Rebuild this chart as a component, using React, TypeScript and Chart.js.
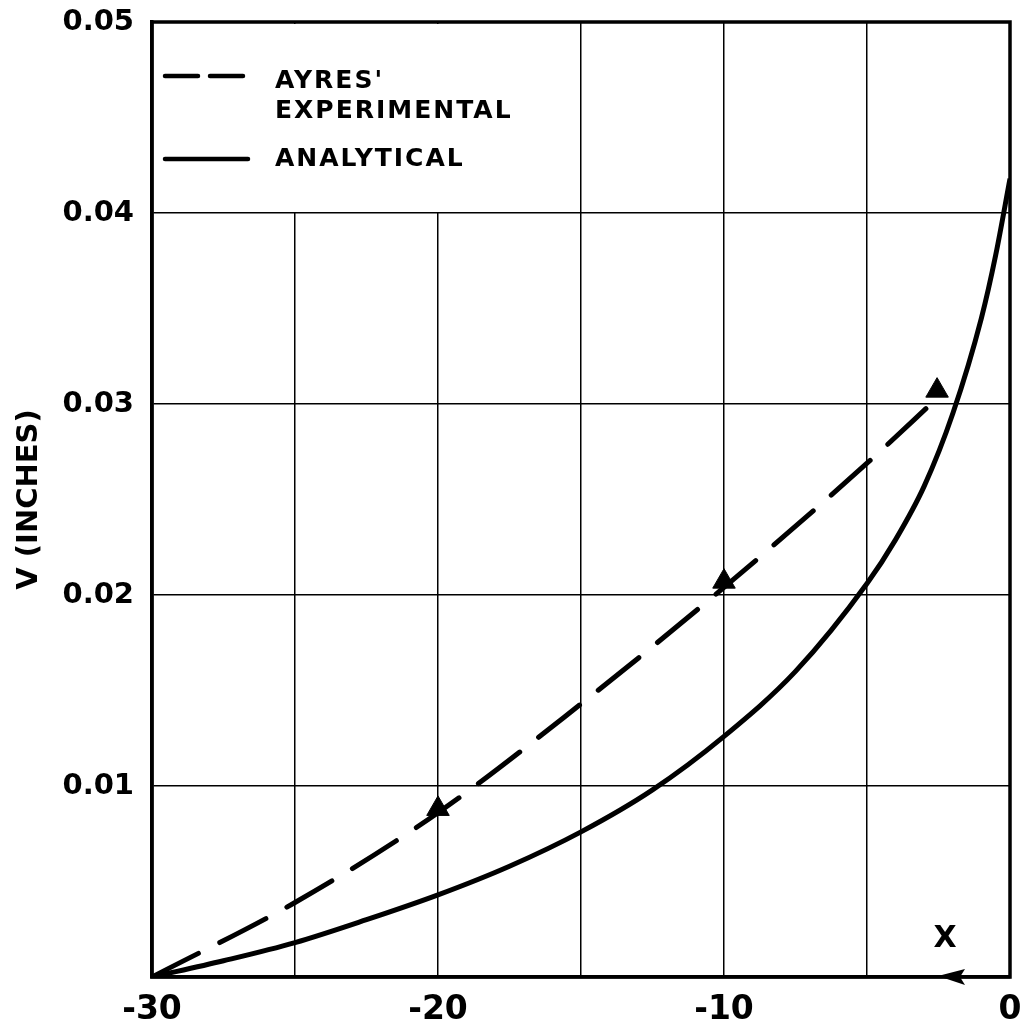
import React, { useEffect, useRef } from "react";
import { Chart, registerables } from "chart.js";

Chart.register(...registerables);

// Analytical curve (solid)
const analyticalX = [-30, -27.5, -25, -22.5, -20, -17.5, -15, -12.5, -10, -7.5, -5, -4, -3, -2, -1, -0.5, 0];
const analyticalV = [0, 0.00085, 0.0018, 0.003, 0.0043, 0.0058, 0.0076, 0.0098, 0.0126, 0.016, 0.0206, 0.0229, 0.0257, 0.0295, 0.0345, 0.0378, 0.0418];

// Ayres' experimental (dashed)
const experimentalX = [-30, -25, -20, -15, -10, -5, -2.55];
const experimentalV = [0, 0.0039, 0.0086, 0.0143, 0.0204, 0.0269, 0.0303];

// Experimental markers (triangles)
const markerX = [-20, -10, -2.55];
const markerV = [0.0088, 0.0207, 0.0307];

const xTickLabels = [-30, -20, -10, 0];
const yTickLabels = [0.01, 0.02, 0.03, 0.04, 0.05];

const legendLabels = ["AYRES'", "EXPERIMENTAL", "ANALYTICAL"];
const yTitle = "V (INCHES)";
const xArrowLabel = "X";

const FONT = "'DejaVu Sans', sans-serif";

const decorPlugin = {
  id: "decor",
  beforeDraw(chart: any) {
    const ctx = chart.ctx;
    ctx.save();
    ctx.fillStyle = "#fff";
    ctx.fillRect(0, 0, chart.width, chart.height);
    ctx.restore();
  },
  beforeDatasetsDraw(chart: any) {
    const { ctx, chartArea, scales } = chart;
    const a = chartArea;
    const yb = scales.y.getPixelForValue(0.04);
    ctx.save();
    // legend background (grid lines absent there)
    ctx.fillStyle = "#fff";
    ctx.fillRect(a.left + 2, a.top + 2, 390, yb - a.top - 3);
    // frame
    ctx.strokeStyle = "#000";
    ctx.lineWidth = 3.5;
    ctx.strokeRect(a.left, a.top, a.right - a.left, a.bottom - a.top);
    ctx.restore();
  },
  afterDraw(chart: any) {
    const { ctx, chartArea } = chart;
    const a = chartArea;
    ctx.save();
    ctx.fillStyle = "#000";
    ctx.strokeStyle = "#000";
    ctx.lineCap = "round";
    // legend
    const lx0 = a.left + 13;
    const lx1 = a.left + 96;
    ctx.lineWidth = 4.5;
    ctx.setLineDash([33, 12]);
    ctx.beginPath();
    ctx.moveTo(lx0, a.top + 54);
    ctx.lineTo(lx1, a.top + 54);
    ctx.stroke();
    ctx.setLineDash([]);
    ctx.beginPath();
    ctx.moveTo(lx0, a.top + 137);
    ctx.lineTo(lx1, a.top + 137);
    ctx.stroke();
    (ctx as any).letterSpacing = "2px";
    ctx.font = `bold 25px ${FONT}`;
    ctx.textBaseline = "alphabetic";
    ctx.textAlign = "left";
    ctx.fillText(legendLabels[0], a.left + 123, a.top + 66);
    ctx.fillText(legendLabels[1], a.left + 123, a.top + 96);
    ctx.fillText(legendLabels[2], a.left + 123, a.top + 144);
    // X arrow label
    (ctx as any).letterSpacing = "0px";
    ctx.font = `bold 30px ${FONT}`;
    ctx.textAlign = "center";
    ctx.fillText(xArrowLabel, a.right - 65, a.bottom - 30);
    ctx.beginPath();
    ctx.moveTo(a.right - 72, a.bottom - 1);
    ctx.lineTo(a.right - 45, a.bottom - 8);
    ctx.lineTo(a.right - 50, a.bottom);
    ctx.lineTo(a.right - 45, a.bottom + 8);
    ctx.closePath();
    ctx.fill();
    ctx.restore();
  },
};

export default function App() {
  const ref = useRef<HTMLCanvasElement | null>(null);
  useEffect(() => {
    if (!ref.current) return;
    const chart = new Chart(ref.current, {
      type: "line",
      data: {
        datasets: [
          {
            label: "ANALYTICAL",
            data: analyticalX.map((x, i) => ({ x, y: analyticalV[i] })),
            borderColor: "#000",
            borderWidth: 5,
            pointRadius: 0,
            cubicInterpolationMode: "monotone",
            fill: false,
          },
          {
            label: "AYRES' EXPERIMENTAL",
            data: experimentalX.map((x, i) => ({ x, y: experimentalV[i] })),
            borderColor: "#000",
            borderWidth: 5,
            borderDash: [52, 24],
            borderCapStyle: "round",
            pointRadius: 0,
            cubicInterpolationMode: "monotone",
            fill: false,
          },
          {
            label: "markers",
            data: markerX.map((x, i) => ({ x, y: markerV[i] })),
            showLine: false,
            pointStyle: "triangle",
            pointRadius: 13,
            pointBackgroundColor: "#000",
            pointBorderColor: "#000",
            pointBorderWidth: 1,
          },
        ],
      },
      options: {
        responsive: false,
        animation: false,
        events: [],
        layout: { padding: { top: 22, right: 18, left: 0, bottom: 0 } },
        plugins: { legend: { display: false }, tooltip: { enabled: false } },
        scales: {
          x: {
            type: "linear",
            min: -30,
            max: 0,
            afterFit: (s: any) => {
              s.height = 53;
              s.paddingLeft = 0;
              s.paddingRight = 0;
            },
            grid: { color: "#000", lineWidth: 1.5, drawTicks: false },
            border: { display: true, color: "#000", width: 3.5 },
            ticks: {
              stepSize: 5,
              autoSkip: false,
              maxRotation: 0,
              padding: 14,
              color: "#000",
              font: { family: FONT, size: 33, weight: "bold" },
              callback: (v: any) => (xTickLabels.includes(Number(v)) ? String(Math.abs(v) < 1e-9 ? 0 : v) : ""),
            },
          },
          y: {
            type: "linear",
            min: 0,
            max: 0.05,
            afterFit: (s: any) => {
              s.width = 152;
              s.paddingTop = 0;
              s.paddingBottom = 0;
            },
            grid: { color: "#000", lineWidth: 1.5, drawTicks: false },
            border: { display: true, color: "#000", width: 3.5 },
            title: {
              display: true,
              text: yTitle,
              color: "#000",
              font: { family: FONT, size: 29, weight: "bold" },
              padding: { top: 12, bottom: 0 },
            },
            ticks: {
              stepSize: 0.01,
              autoSkip: false,
              padding: 18,
              color: "#000",
              font: { family: FONT, size: 29, weight: "bold" },
              callback: (v: any) => {
                const n = Number(v);
                const m = yTickLabels.find((t) => Math.abs(t - n) < 1e-9);
                return m === undefined ? "" : m.toFixed(2);
              },
            },
          },
        },
      },
      plugins: [decorPlugin],
    } as any);
    return () => chart.destroy();
  }, []);
  return (
    <div style={{ position: "absolute", left: 0, top: 0, width: 1028, height: 1030, background: "#fff" }}>
      <canvas ref={ref} width={1028} height={1030} style={{ display: "block" }} />
    </div>
  );
}
